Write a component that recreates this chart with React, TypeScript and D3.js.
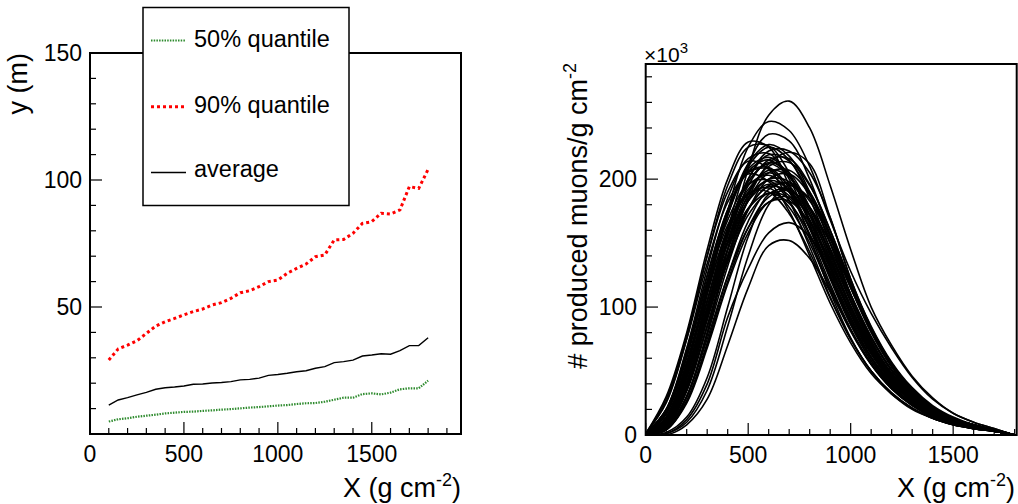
import React from "react";
import * as d3 from "d3";

// ---------- Left panel data ----------
const depthX = [100,150,200,250,300,350,400,450,500,550,600,650,700,750,800,850,900,950,1000,1050,1100,1150,1200,1250,1300,1350,1400,1450,1500,1550,1600,1650,1700,1750,1800];
const q50 = [4.9,5.8,6.2,6.8,7.2,7.6,8.1,8.4,8.7,8.8,9.1,9.3,9.6,9.8,10.1,10.4,10.6,10.9,11.2,11.4,11.8,12.1,12.2,12.7,13.5,14.3,14.3,15.7,16.0,15.6,16.3,17.6,18.0,18.0,21.0];
const q90 = [29.1,33.5,35.0,36.7,39.6,42.5,44.2,45.5,46.9,48.2,49.2,50.8,51.7,53.4,55.6,56.4,58.0,60.0,60.6,63.3,65.2,66.9,69.8,70.5,76.4,76.6,79.0,82.9,83.6,86.9,86.6,88.2,97.4,96.7,104.2];
const avg = [11.4,13.4,14.3,15.4,16.4,17.6,18.2,18.5,18.9,19.6,19.7,20.1,20.3,20.6,21.3,21.5,22.0,23.1,23.4,23.9,24.5,24.9,25.9,26.5,28.1,28.5,29.1,30.7,31.1,31.6,31.4,32.8,34.8,34.8,37.9];

const leftXTicks = [0,500,1000,1500];
const leftYTicks = [50,100,150];
const leftXMinor = [0,100,200,300,400,500,600,700,800,900,1000,1100,1200,1300,1400,1500,1600,1700,1800,1900];
const leftYMinor = [0,10,20,30,40,50,60,70,80,90,100,110,120,130,140,150];

const legendLabels = ["50% quantile","90% quantile","average"];

// ---------- Right panel data (units of 10^3) ----------
const profileX = [0,100,200,300,400,500,600,700,800,900,1000,1100,1200,1300,1400,1500,1600,1700,1800];
const profiles: number[][] = [
  [0,5,30,80,145,208,250,261,240,195,145,100,70,46,29,17,10,5,0],
  [0,8,45,110,175,225,245,238,210,168,128,95,68,45,28,17,10,5,0],
  [0,6,38,95,160,212,235,230,200,155,110,74,48,31,19,12,7,4,0],
  [1,30,80,145,200,229,225,195,155,112,76,50,32,21,13,8,5,3,0],
  [0,0,8,28,70,115,148,152,138,112,82,56,37,24,15,9,5,3,0],
  [0,1,12,40,92,130,158,166,155,128,95,65,43,28,17,11,6,3,0],
  [0,1,10,35,85,140,180,195,185,155,115,80,53,34,21,13,8,4,0],
  [0,2,14,45,100,155,188,192,172,138,100,68,45,29,18,11,7,4,0],
  [1,25,75,140,195,225,226,205,168,125,87,58,38,24,15,9,6,3,0],
  [1,20,68,130,185,216,220,200,165,124,88,60,39,25,16,10,6,3,0],
  [0,14,55,115,172,210,225,215,185,145,105,72,48,31,19,12,7,4,0],
  [0,10,45,100,158,200,219,214,188,150,110,76,50,32,20,12,7,4,0],
  [0,16,60,120,175,208,217,203,172,132,95,64,42,27,17,10,6,3,0],
  [0,7,38,90,145,188,210,213,195,160,120,84,56,36,22,13,8,4,0],
  [0,12,50,105,160,198,212,202,175,137,99,67,44,28,17,10,6,3,0],
  [1,20,66,125,176,205,208,190,157,118,83,56,37,24,15,9,6,3,0],
  [0,9,42,95,150,190,207,202,178,142,104,71,47,30,19,11,7,4,0],
  [0,5,30,78,132,176,200,204,188,156,118,83,56,36,22,13,8,4,0],
  [0,13,54,110,162,195,203,190,162,125,90,61,40,26,16,10,6,3,0],
  [0,10,45,98,150,186,199,192,168,133,97,66,44,28,17,10,6,3,0],
  [0,6,35,85,137,176,195,196,178,146,110,77,51,33,20,12,7,4,0],
  [0,8,40,90,140,177,194,190,168,135,100,69,46,30,18,11,7,4,0],
  [0,4,26,70,120,162,186,191,178,150,115,82,55,35,22,13,8,4,0],
  [0,7,37,85,135,172,189,185,163,130,96,66,44,28,17,10,6,3,0],
  [0,4,25,68,118,158,182,186,172,143,108,76,51,33,20,12,7,4,0],
  [0,5,30,75,124,162,182,183,166,136,101,70,47,30,18,11,7,4,0],
  [0,8,40,95,155,200,222,222,205,170,122,85,57,37,23,14,8,4,0],
  [0,5,30,80,138,185,212,221,212,170,122,84,56,36,22,13,8,4,0],
  [1,28,78,140,190,214,208,183,147,108,75,50,33,21,13,8,5,3,0],
  [1,26,75,134,182,204,198,175,140,103,72,48,32,20,13,8,5,3,0],
  [0,11,48,104,160,198,213,205,178,140,101,69,46,29,18,11,6,3,0],
  [0,6,34,85,140,183,205,207,190,157,118,82,55,35,21,13,8,4,0],
  [0,17,62,120,168,196,199,183,153,116,82,55,36,23,14,9,5,3,0],
  [0,11,48,100,150,183,196,187,162,127,92,63,42,27,17,10,6,3,0],
  [0,12,52,112,172,212,227,218,190,150,108,73,48,31,19,11,7,4,0],
  [0,8,40,95,152,195,215,216,196,160,119,82,54,35,21,13,8,4,0],
  [0,8,40,92,145,183,200,198,177,142,105,72,48,31,19,11,7,4,0],
  [0,14,56,112,160,188,193,178,150,114,81,55,36,23,14,9,5,3,0],
  [0,10,45,96,145,177,189,181,157,124,90,61,41,26,16,10,6,3,0],
  [1,18,64,124,176,206,209,193,161,122,86,58,38,24,15,9,6,3,0],
  [0,12,50,105,157,192,205,195,168,131,94,64,42,27,17,10,6,3,0],
  [0,4,27,72,124,167,192,197,183,153,116,81,54,35,21,13,8,4,0],
  [0,14,57,116,172,206,215,202,172,133,96,65,43,27,17,10,6,3,0],
  [1,20,64,118,164,189,190,173,143,107,75,50,33,21,13,8,5,3,0],
];

const rightXTicks = [0,500,1000,1500];
const rightYTicks = [0,100,200];
const rightXMinor = [0,100,200,300,400,500,600,700,800,900,1000,1100,1200,1300,1400,1500,1600,1700,1800];
const rightYMinor = [0,20,40,60,80,100,120,140,160,180,200,220,240,260,280];

const FONT = "'Liberation Sans', Arial, Helvetica, sans-serif";

export default function App() {
  // Left panel scales
  const lx = d3.scaleLinear().domain([0, 1975]).range([90, 461]);
  const ly = d3.scaleLinear().domain([0, 150]).range([434, 53]);
  // Right panel scales
  const rx = d3.scaleLinear().domain([0, 1810]).range([645.7, 1016.7]);
  const ry = d3.scaleLinear().domain([0, 290]).range([435, 64]);

  const leftLine = (vals: number[]) =>
    d3.line<number>().x((_, i) => lx(depthX[i])).y((d) => ly(d))(vals) || "";
  const rightLine = (vals: number[]) =>
    d3.line<number>()
      .x((_, i) => rx(profileX[i]))
      .y((d) => Math.min(ry(0), ry(d)))
      .curve(d3.curveCatmullRom.alpha(0.5))(vals) || "";

  const green = "#2e8b2e";
  const red = "#ff0000";

  const legendY = [40.5, 106.7, 172.5];
  const legendBase = [47, 113, 177];
  const legendStyles = [
    { stroke: green, width: 2.2, dash: "1.5,1.2" },
    { stroke: red, width: 3, dash: "3,3" },
    { stroke: "#000", width: 1.4, dash: undefined as string | undefined },
  ];

  return (
    <svg width={1018} height={504} style={{ position: "absolute", left: 0, top: 0, background: "#fff" }} fontFamily={FONT}>
      <rect x={0} y={0} width={1018} height={504} fill="#fff" />
      <defs>
        <clipPath id="rclip">
          <rect x={645.7} y={64} width={371} height={371} />
        </clipPath>
      </defs>
      {/* ===== Left panel ===== */}
      <g>
        {leftXMinor.map((t) => (
          <line key={"lxm" + t} x1={lx(t)} x2={lx(t)} y1={434} y2={leftXTicks.includes(t) ? 422 : 428} stroke="#000" strokeWidth={1.2} />
        ))}
        {leftYMinor.map((t) => (
          <line key={"lym" + t} x1={90} x2={leftYTicks.includes(t) || t === 0 ? 102 : 96} y1={ly(t)} y2={ly(t)} stroke="#000" strokeWidth={1.2} />
        ))}
        {leftXTicks.map((t) => (
          <text key={"lxt" + t} x={lx(t)} y={462} fontSize={23} textAnchor="middle">{t}</text>
        ))}
        {leftYTicks.map((t) => (
          <text key={"lyt" + t} x={82} y={ly(t)} dy="0.36em" fontSize={23} textAnchor="end">{t}</text>
        ))}
        <path d={leftLine(q90)} fill="none" stroke={red} strokeWidth={3} strokeDasharray="3,3" />
        <path d={leftLine(q50)} fill="none" stroke={green} strokeWidth={2.2} strokeDasharray="1.5,1.2" />
        <path d={leftLine(avg)} fill="none" stroke="#000" strokeWidth={1.4} />
        <rect x={90} y={53} width={371} height={381} fill="none" stroke="#000" strokeWidth={2} />
        {/* legend */}
        <rect x={143} y={7.5} width={206} height={198} fill="#fff" stroke="#000" strokeWidth={1.5} />
        {legendLabels.map((lab, i) => (
          <g key={lab}>
            <line x1={151} x2={186} y1={legendY[i]} y2={legendY[i]} stroke={legendStyles[i].stroke} strokeWidth={legendStyles[i].width} strokeDasharray={legendStyles[i].dash} />
            <text x={194} y={legendBase[i]} fontSize={23.5}>{lab}</text>
          </g>
        ))}
        {/* axis titles */}
        <text x={461} y={497} fontSize={27} textAnchor="end">
          X (g cm<tspan dy={-11} fontSize={18}>-2</tspan><tspan dy={11}>)</tspan>
        </text>
        <text transform="translate(27,53) rotate(-90)" fontSize={27} textAnchor="end">y (m)</text>
      </g>

      {/* ===== Right panel ===== */}
      <g>
        <g clipPath="url(#rclip)">
          {profiles.map((p, i) => (
            <path key={"pr" + i} d={rightLine(p)} fill="none" stroke="#000" strokeWidth={1.6} />
          ))}
        </g>
        {rightXMinor.map((t) => (
          <line key={"rxm" + t} x1={rx(t)} x2={rx(t)} y1={435} y2={rightXTicks.includes(t) ? 423 : 429} stroke="#000" strokeWidth={1.2} />
        ))}
        {rightYMinor.map((t) => (
          <line key={"rym" + t} x1={645.7} x2={rightYTicks.includes(t) ? 658 : 652} y1={ry(t)} y2={ry(t)} stroke="#000" strokeWidth={1.2} />
        ))}
        {rightXTicks.map((t) => (
          <text key={"rxt" + t} x={rx(t)} y={463} fontSize={23} textAnchor="middle">{t}</text>
        ))}
        {rightYTicks.map((t) => (
          <text key={"ryt" + t} x={637} y={ry(t)} dy="0.36em" fontSize={23} textAnchor="end">{t}</text>
        ))}
        <rect x={645.7} y={64} width={371} height={371} fill="none" stroke="#000" strokeWidth={2} />
        <text x={644} y={62} fontSize={21}>
          ×10<tspan dy={-9} fontSize={15}>3</tspan>
        </text>
        <text x={1015} y={497} fontSize={27} textAnchor="end">
          X (g cm<tspan dy={-11} fontSize={18}>-2</tspan><tspan dy={11}>)</tspan>
        </text>
        <text transform="translate(587,63) rotate(-90)" fontSize={27} textAnchor="end">
          # produced muons/g cm<tspan dy={-11} fontSize={18}>-2</tspan>
        </text>
      </g>
    </svg>
  );
}
